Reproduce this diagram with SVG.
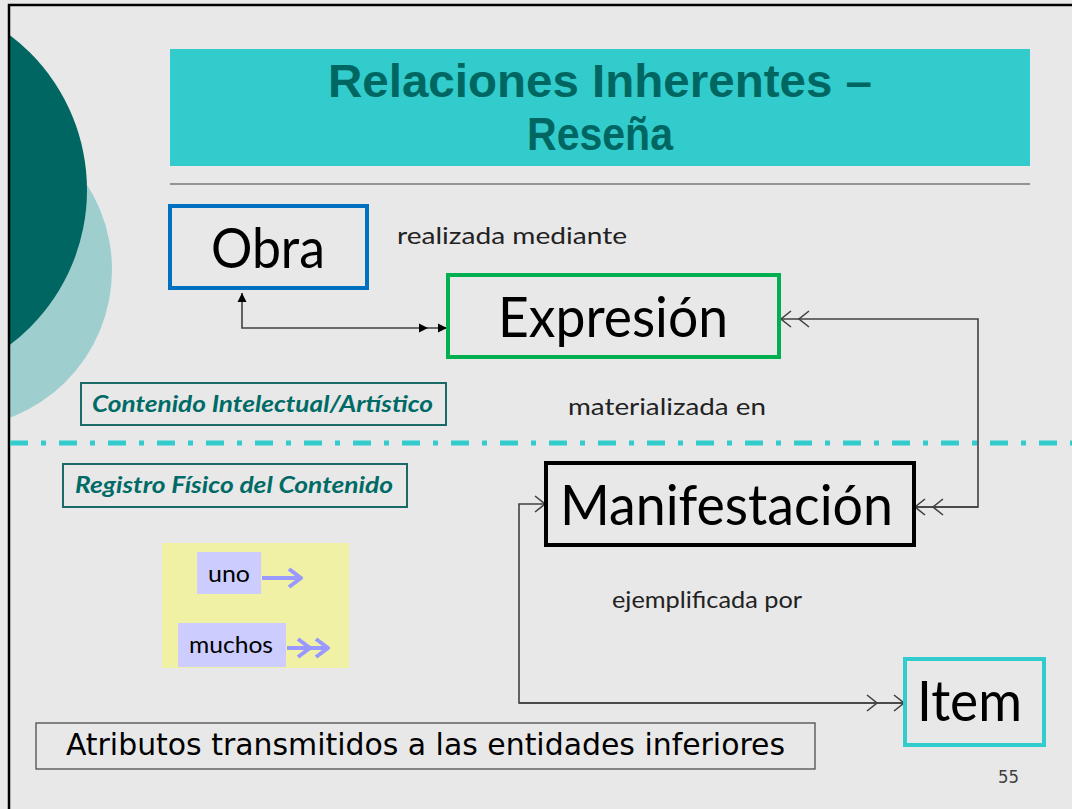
<svg xmlns="http://www.w3.org/2000/svg" width="1072" height="809" viewBox="0 0 1072 809">
<defs>
<style>
.body{font-family:"Lato","Open Sans",sans-serif;fill:#000}
.big{font-size:56px}
.lbl{font-size:24px;fill:#222}
.tag{font-family:"Lato","Open Sans",sans-serif;font-size:23px;font-weight:bold;font-style:italic;fill:#006b66}
.tagbox{fill:none;stroke:#1a6b67;stroke-width:2}
.title{font-family:"Liberation Sans",Arial,sans-serif;font-weight:bold;font-size:46px;fill:#006662}
.conn{fill:none;stroke:#404040;stroke-width:1.6}
.leg{fill:none;stroke:#9999ff;stroke-width:4}
</style>
<clipPath id="inside"><rect x="9" y="5" width="1063" height="804"/></clipPath>
<marker id="fillArrow" markerUnits="userSpaceOnUse" viewBox="-10 -6 12 12" refX="0" refY="0" markerWidth="12" markerHeight="12" orient="auto-start-reverse">
<path d="M0,0 L-9,-4.5 L-9,4.5 Z" fill="#000"/>
</marker>
<marker id="fillArrow2" markerUnits="userSpaceOnUse" viewBox="-30 -6 32 12" refX="0" refY="0" markerWidth="32" markerHeight="12" orient="auto">
<path d="M0,0 L-9,-4.5 L-9,4.5 Z M-19,0 L-28,-4.5 L-28,4.5 Z" fill="#000"/>
</marker>
<marker id="chev1" markerUnits="userSpaceOnUse" viewBox="-14 -10 16 20" refX="0" refY="0" markerWidth="16" markerHeight="20" orient="auto">
<path d="M-10,-8 L0,0 L-10,8" fill="none" stroke="#404040" stroke-width="1.6"/>
</marker>
<marker id="chev2s" markerUnits="userSpaceOnUse" viewBox="-32 -10 34 20" refX="0" refY="0" markerWidth="34" markerHeight="20" orient="auto">
<path d="M-10,-8 L0,0 L-10,8 M-28,-8 L-18,0 L-28,8" fill="none" stroke="#404040" stroke-width="1.6"/>
</marker>
<marker id="chev2w" markerUnits="userSpaceOnUse" viewBox="-40 -10 42 20" refX="0" refY="0" markerWidth="42" markerHeight="20" orient="auto">
<path d="M-10,-8 L0,0 L-10,8 M-37,-8 L-27,0 L-37,8" fill="none" stroke="#404040" stroke-width="1.6"/>
</marker>
<marker id="legChev1" markerUnits="userSpaceOnUse" viewBox="-16 -12 18 24" refX="0" refY="0" markerWidth="18" markerHeight="24" orient="auto">
<path d="M-12,-9 L0,0 L-12,9" fill="none" stroke="#9999ff" stroke-width="4" stroke-linejoin="round"/>
</marker>
<marker id="legChev2" markerUnits="userSpaceOnUse" viewBox="-34 -12 36 24" refX="0" refY="0" markerWidth="36" markerHeight="24" orient="auto">
<path d="M-12,-9 L0,0 L-12,9 M-30,-9 L-18,0 L-30,9" fill="none" stroke="#9999ff" stroke-width="4" stroke-linejoin="round"/>
</marker>
</defs>

<rect x="0" y="0" width="1072" height="809" fill="#e8e8e8"/>

<g id="decor" clip-path="url(#inside)">
<circle cx="-46" cy="270" r="158" fill="#9ecece"/>
<circle cx="-107" cy="190" r="194" fill="#006662"/>
</g>
<path d="M9,809 V5 H1072" fill="none" stroke="#000" stroke-width="2.5"/>

<g id="title">
<rect x="170" y="49" width="860" height="117" fill="#33cccc"/>
<text class="title" x="328" y="97" textLength="544" lengthAdjust="spacingAndGlyphs">Relaciones Inherentes –</text>
<text class="title" x="527" y="150" textLength="146" lengthAdjust="spacingAndGlyphs">Reseña</text>
</g>
<line x1="170" y1="184" x2="1030" y2="184" stroke="#404040" stroke-width="1.2"/>

<g id="separator">
<line x1="10" y1="443" x2="1072" y2="443" stroke="#33cccc" stroke-width="5" stroke-dasharray="18 13 5 13"/>
</g>

<g id="connectors">
<path class="conn" d="M242,293 V328 H447" marker-start="url(#fillArrow)" marker-end="url(#fillArrow2)" stroke="#000"/>
<path class="conn" d="M915,507 H978 V319 H781" marker-end="url(#chev2s)"/>
<path class="conn" d="M978,507 H915" marker-end="url(#chev2s)"/>
<path class="conn" d="M904,703 H519 V504 H545" marker-end="url(#chev1)"/>
<path class="conn" d="M519,703 H904" marker-end="url(#chev2w)"/>
</g>

<g id="obra">
<rect x="170" y="206" width="197" height="82" fill="none" stroke="#0070c0" stroke-width="4"/>
<text class="body big" x="211" y="268" textLength="114" lengthAdjust="spacingAndGlyphs">Obra</text>
</g>
<g id="label-realizada">
<text class="body lbl" x="397" y="244" textLength="230" lengthAdjust="spacingAndGlyphs">realizada mediante</text>
</g>
<g id="expresion">
<rect x="448" y="275" width="331" height="82" fill="none" stroke="#00b050" stroke-width="4"/>
<text class="body big" x="498" y="337" textLength="230" lengthAdjust="spacingAndGlyphs">Expresión</text>
</g>
<g id="label-materializada">
<text class="body lbl" x="568" y="415" textLength="198" lengthAdjust="spacingAndGlyphs">materializada en</text>
</g>
<g id="manifestacion">
<rect x="546" y="463" width="368" height="82" fill="none" stroke="#000" stroke-width="4"/>
<text class="body big" x="560" y="525" textLength="333" lengthAdjust="spacingAndGlyphs">Manifestación</text>
</g>
<g id="label-ejemplificada">
<text class="body lbl" x="612" y="608" textLength="190" lengthAdjust="spacingAndGlyphs">ejemplificada por</text>
</g>
<g id="item">
<rect x="905" y="659" width="139" height="86" fill="none" stroke="#33cccc" stroke-width="4"/>
<text class="body big" x="917" y="721" textLength="105" lengthAdjust="spacingAndGlyphs">Item</text>
</g>

<g id="tag-contenido">
<rect class="tagbox" x="81" y="383" width="365" height="42"/>
<text class="tag" x="92" y="412" textLength="341" lengthAdjust="spacingAndGlyphs">Contenido Intelectual/Artístico</text>
</g>
<g id="tag-registro">
<rect class="tagbox" x="63" y="464" width="344" height="43"/>
<text class="tag" x="75" y="493" textLength="318" lengthAdjust="spacingAndGlyphs">Registro Físico del Contenido</text>
</g>

<g id="legend">
<rect x="162" y="543" width="187" height="125" fill="#f1f1a6"/>
<rect x="197" y="552" width="64" height="42" fill="#ccccff"/>
<text class="body" x="208" y="582" font-size="23" textLength="42" lengthAdjust="spacingAndGlyphs" fill="#111">uno</text>
<path class="leg" d="M262,578 H301" marker-end="url(#legChev1)"/>
<rect x="178" y="623" width="108" height="44" fill="#ccccff"/>
<text class="body" x="189" y="653" font-size="23" textLength="84" lengthAdjust="spacingAndGlyphs" fill="#111">muchos</text>
<path class="leg" d="M287,648 H328" marker-end="url(#legChev2)"/>
</g>

<g id="atributos">
<rect x="36" y="723" width="779" height="46" fill="none" stroke="#404040" stroke-width="1.2"/>
<text x="66" y="755" font-family="'DejaVu Sans Condensed','DejaVu Sans',sans-serif" font-size="30" textLength="719" lengthAdjust="spacingAndGlyphs" fill="#000">Atributos transmitidos a las entidades inferiores</text>
</g>

<text x="998" y="783" font-family="'DejaVu Sans Condensed','DejaVu Sans',sans-serif" font-size="17" fill="#404040" textLength="21" lengthAdjust="spacingAndGlyphs">55</text>
</svg>
